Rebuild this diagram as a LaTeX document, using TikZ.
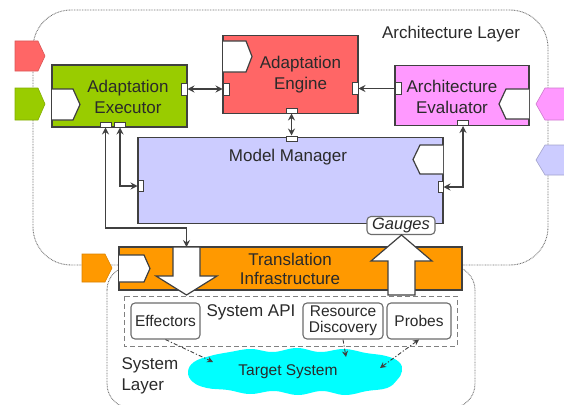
\documentclass[tikz,border=0pt]{standalone}
\usepackage{fontspec}
\setmainfont{Liberation Sans}
\usetikzlibrary{arrows.meta}

\definecolor{execgreen}{HTML}{99CC00}
\definecolor{enginered}{HTML}{FF6666}
\definecolor{evalpink}{HTML}{FF99FF}
\definecolor{modellav}{HTML}{CCCCFF}
\definecolor{transorange}{HTML}{FF9900}
\definecolor{targetcyan}{HTML}{00FFFF}
\definecolor{edge}{HTML}{404040}
\definecolor{ink}{HTML}{2A2A2A}
\definecolor{layergray}{HTML}{707070}

\tikzset{
  every node/.style={text=ink},
  bigfont/.style={font=\fontsize{17}{21}\selectfont},
  smallfont/.style={font=\fontsize{15.5}{16}\selectfont},
  box/.style={draw=edge, line width=1.2pt, inner sep=0pt},
  layerline/.style={draw=layergray, line width=0.9pt, dash pattern=on 0.8pt off 0.8pt},
  portin/.style={draw=edge, line width=1.2pt, fill=white, line join=miter},
  portout/.style={line width=0.6pt},
  pinrect/.style={draw=edge, line width=1pt, fill=white, inner sep=0pt},
  conn/.style={draw=edge, line width=1.1pt, arrows={Stealth[length=7pt,width=7pt,inset=2.5pt]-Stealth[length=7pt,width=7pt,inset=2.5pt]}},
  onehead/.style={draw=edge, line width=1.1pt, arrows={-Stealth[length=7pt,width=7pt,inset=2.5pt]}},
  bigarrow/.style={draw=edge, line width=1.2pt, fill=white, line join=miter},
  apibox/.style={draw=gray, line width=1pt, dash pattern=on 5pt off 3pt},
  roundbox/.style={draw=gray!85!black, line width=1.1pt, fill=white, rounded corners=4pt, inner sep=0pt},
  dashdot/.style={draw=edge, line width=0.9pt, dash pattern=on 4pt off 2pt on 1.2pt off 2pt},
  dashtip/.style={arrows={-Stealth[length=6pt,width=6pt,inset=2pt]}},
  dashtips/.style={arrows={Stealth[length=6pt,width=6pt,inset=2pt]-Stealth[length=6pt,width=6pt,inset=2pt]}},
}

\begin{document}
\begin{tikzpicture}[x=1pt,y=-1pt]
\useasboundingbox (0,0) rectangle (564,404);
\clip (0,0) rectangle (564,404);

% layer boundaries
\draw[layerline, rounded corners=38pt] (33,10) rectangle (548,265);
\draw[layerline, rounded corners=24pt] (107,266) rectangle (475,408);
\node[bigfont] (archlayer) at (451,34) {Architecture Layer};
\node[bigfont, align=left, anchor=west] (syslayer) at (118,376) {System\\Layer};

% external ports on the layer boundary
\draw[portout, fill=enginered, draw=enginered!85!black]
  (15,41) -- (38,41) -- (45,56) -- (38,71) -- (15,71) -- cycle;
\draw[portout, fill=execgreen, draw=execgreen!85!black]
  (15,88) -- (38,88) -- (45,104) -- (38,120) -- (15,120) -- cycle;
\draw[portout, fill=evalpink, draw=evalpink!80!black]
  (566,88) -- (545,88) -- (536,104) -- (545,120) -- (566,120) -- cycle;
\draw[portout, fill=modellav, draw=modellav!80!black]
  (566,145) -- (545,145) -- (536,160) -- (545,175) -- (566,175) -- cycle;
\draw[portout, fill=transorange, draw=transorange!85!black]
  (82,254) -- (105,254) -- (112,268) -- (105,282) -- (82,282) -- cycle;

% components
\node[box, fill=execgreen, minimum width=135, minimum height=62] (exec) at (119.5,96) {};
\node[box, fill=enginered, minimum width=135, minimum height=78] (engine) at (290.5,74.5) {};
\node[box, fill=evalpink, minimum width=134, minimum height=60] (eval) at (462,95.5) {};
\node[box, fill=modellav, minimum width=305, minimum height=86] (model) at (290.5,180.5) {};
\node[box, fill=transorange, minimum width=343, minimum height=43] (trans) at (290.5,268.5) {};

% provided/required ports inside the components
\draw[portin] (52,89) -- (73,89) -- (80,104.5) -- (73,120) -- (52,120);
\draw[portin] (223,41) -- (246,41) -- (252,56.5) -- (246,72) -- (223,72);
\draw[portin] (529,89) -- (506,89) -- (499,104) -- (506,119) -- (529,119);
\draw[portin] (443,145) -- (420,145) -- (413,159.5) -- (420,174) -- (443,174);
\draw[portin] (119,255) -- (144,255) -- (150,268.5) -- (144,282) -- (119,282);

% component labels
\node[bigfont, align=center] (exectxt) at (128,97) {Adaptation\\Executor};
\node[bigfont, align=center] (enginetxt) at (300.5,75) {Adaptation\\Engine};
\node[bigfont, align=center] (evaltxt) at (452,97) {Architecture\\Evaluator};
\node[bigfont] (modeltxt) at (288,157) {Model Manager};
\node[bigfont, align=center, font=\fontsize{17}{19}\selectfont] (transtxt) at (290,269) {Translation\\Infrastructure};

% gauges
\node[roundbox, minimum width=68, minimum height=18, font=\fontsize{16.5}{18}\selectfont\itshape] (gauges) at (401,225.5) {Gauges};

% big effect / observation arrows through the translation layer
\draw[bigarrow] (173,247) -- (200,247) -- (200,276) -- (217,276) -- (186.5,295)
  -- (156,276) -- (173,276) -- cycle;
\coordinate (downtop) at (186.5,247);
\coordinate (downbend) at (186.5,228);
\draw[bigarrow] (388,295) -- (388,261) -- (371,261) -- (401.5,235)
  -- (432,261) -- (415,261) -- (415,295) -- cycle;

% connector pins
\node[pinrect, minimum width=6, minimum height=12] (exR) at (184,89) {};
\node[pinrect, minimum width=6, minimum height=12] (enL) at (226,89) {};
\node[pinrect, minimum width=6, minimum height=12] (enR) at (355,88.5) {};
\node[pinrect, minimum width=6, minimum height=12] (evL) at (398,88.5) {};
\node[pinrect, minimum width=11, minimum height=5] (enB) at (291.5,110.5) {};
\node[pinrect, minimum width=11, minimum height=5] (mmT) at (291.5,138.5) {};
\node[pinrect, minimum width=11, minimum height=5] (exB1) at (105.5,124.5) {};
\node[pinrect, minimum width=11, minimum height=5] (exB2) at (120,124.5) {};
\node[pinrect, minimum width=5, minimum height=11] (mmL) at (140.5,186) {};
\node[pinrect, minimum width=5, minimum height=11] (mmR) at (440.5,187) {};
\node[pinrect, minimum width=11, minimum height=5] (evB) at (463,123) {};

% connectors
\draw[conn] (exR.east) -- (enL.west);
\draw[onehead] (evL.west) -- (enR.east);
\draw[conn] (enB.south) -- (mmT.north);
\draw[conn] (exB1.south) |- (downbend) -- (downtop);
\draw[conn] (exB2.south) |- (mmL.west);
\draw[conn] (evB.south) |- (mmR.east);

% system layer
\draw[apibox] (124,296) rectangle (457,346);
\node[bigfont, anchor=west] (apitxt) at (203,312) {System API};
\node[roundbox, smallfont, minimum width=69, minimum height=36] (eff) at (165.5,321) {Effectors};
\node[roundbox, smallfont, align=center, minimum width=80, minimum height=36] (resdisc) at (343,321) {Resource\\Discovery};
\node[roundbox, smallfont, minimum width=64, minimum height=36] (probes) at (419,321) {Probes};

% target system cloud
\fill[targetcyan] plot[smooth cycle, tension=0.7] coordinates {
  (188,372) (194,362) (210,356) (230,352) (251,349) (273,352) (297,348)
  (320,352) (344,349) (366,353) (386,356) (399,362) (402,371) (397,380)
  (387,388) (367,391) (345,395) (322,391) (298,395) (274,391) (250,394)
  (228,390) (207,388) (193,382)};
\node[smallfont] (targettxt) at (288,372) {Target System};
\coordinate (tEff) at (213,362);
\coordinate (tRes) at (346,357);
\coordinate (tProbe) at (380,368);

\draw[dashdot, dashtip] (eff.south) -- (tEff);
\draw[dashdot, dashtip] (resdisc.south) -- (tRes);
\draw[dashdot, dashtips] (probes.south) -- (tProbe);
\end{tikzpicture}
\end{document}
